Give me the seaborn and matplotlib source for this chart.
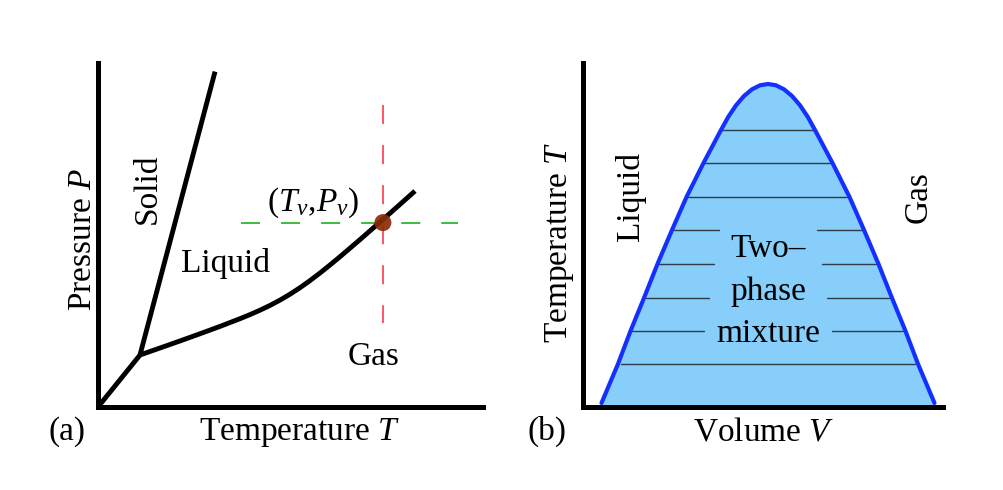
import numpy as np
import pandas as pd
import matplotlib
matplotlib.use("Agg")
import matplotlib.pyplot as plt
import seaborn as sns

# ---------------- data (arbitrary units 0..10) ----------------
# (a) P-T phase diagram
sub_T = [0.00, 1.09]
sub_P = [0.00, 1.51]
melt_T = [1.09, 3.04]
melt_P = [1.51, 9.75]
vap_T = [1.091, 1.610, 2.130, 2.649, 3.169, 3.688, 3.948, 4.208, 4.468, 4.727,
         4.987, 5.247, 5.506, 5.766, 6.026, 6.286, 6.805, 7.325, 7.844, 8.234]
vap_P = [1.512, 1.715, 1.920, 2.129, 2.343, 2.567, 2.686, 2.814, 2.953, 3.107,
         3.279, 3.468, 3.674, 3.895, 4.128, 4.369, 4.866, 5.375, 5.890, 6.279]
Tv, Pv = 7.40, 5.36
red_P = [8.78, 2.44]          # vertical guide (top -> bottom)
green_T = [3.71, 9.35]        # horizontal guide

# (b) T-V coexistence dome
dome_V = [0.514, 0.972, 1.319, 1.694, 2.069, 2.472, 2.875, 3.347, 3.833, 4.028, 4.250,
          4.472, 4.694, 4.917, 5.139, 5.361, 5.583, 5.806, 6.028, 6.250, 6.444, 6.931,
          7.403, 7.806, 8.208, 8.583, 8.958, 9.306, 9.764]
dome_T = [0.116, 1.250, 2.209, 3.169, 4.157, 5.145, 6.105, 7.093, 8.052, 8.422, 8.770,
          9.041, 9.235, 9.352, 9.390, 9.352, 9.235, 9.041, 8.770, 8.422, 8.052, 7.093,
          6.105, 5.145, 4.157, 3.169, 2.209, 1.250, 0.116]
tie_T = [8.05, 7.08, 6.11, 5.15, 4.15, 3.18, 2.21, 1.24]
tie_left = [(3.85, 6.40), (3.39, 6.88), (2.93, 7.34), (2.53, 3.79), (2.09, 3.64),
            (1.75, 3.51), (1.35, 3.36), (1.05, 9.22)]
tie_right = [None, None, None, (6.49, 7.74), (6.63, 8.14), (6.77, 8.51), (6.91, 8.90), None]

# ---------------- style ----------------
sns.set_style("white")
plt.rcParams["font.family"] = ["Liberation Serif", "DejaVu Serif"]
plt.rcParams["mathtext.fontset"] = "custom"
plt.rcParams["mathtext.rm"] = "Liberation Serif"
plt.rcParams["mathtext.it"] = "Liberation Serif:italic"
plt.rcParams["text.color"] = "black"
plt.rcParams["axes.labelcolor"] = "black"
FS = 24

W, H = 1004, 490
fig = plt.figure(figsize=(W / 100, H / 100), dpi=100)
fig.patch.set_facecolor("white")


def px_axes(x0, x1, ytop, ybot):
    return fig.add_axes([x0 / W, 1 - ybot / H, (x1 - x0) / W, (ybot - ytop) / H])


axa = px_axes(98, 483, 63, 407)
axb = px_axes(583, 943, 63, 407)

for ax in (axa, axb):
    ax.set_xlim(0, 10)
    ax.set_ylim(0, 10)
    ax.set_xticks([])
    ax.set_yticks([])
    ax.set_facecolor("white")
    sns.despine(ax=ax)
    for s in ("left", "bottom"):
        ax.spines[s].set_linewidth(3.6)
        ax.spines[s].set_color("black")
        ax.spines[s].set_capstyle("projecting")
        ax.spines[s].set_zorder(5)

# ---------------- (a) ----------------
blk = dict(color="black", linewidth=3.5, sort=False, estimator=None, ax=axa, legend=False)
sns.lineplot(x=sub_T, y=sub_P, **blk)
sns.lineplot(x=melt_T, y=melt_P, **blk)
sns.lineplot(x=vap_T, y=vap_P, **blk)
for ln in axa.lines:
    ln.set_solid_joinstyle("round")
    ln.set_solid_capstyle("butt")

axa.plot([Tv, Tv], red_P, color="#ff5468", linewidth=1.4, linestyle=(0, (9.8, 10.8)), zorder=1)
axa.plot(green_T, [Pv, Pv], color="#3fbb3f", linewidth=1.4, linestyle=(0, (9.8, 10.8)), zorder=1)
sns.scatterplot(x=[Tv], y=[Pv], s=150, color="#8a2c08", alpha=0.92, edgecolor="none",
                ax=axa, zorder=4, legend=False)

axa.text(1.29, 6.34, "Solid", rotation=90, ha="center", va="center", fontsize=FS)
axa.text(3.32, 3.93, "Liquid", ha="center", va="baseline", fontsize=FS)
axa.text(7.17, 1.22, "Gas", ha="center", va="baseline", fontsize=FS)
axa.text(5.58, 5.71, "($T_v$,$P_v$)", ha="center", va="baseline", fontsize=FS)

axa.set_xlabel("")
axa.set_ylabel("")
axa.text(0.525, -0.096, "Temperature $T$", transform=axa.transAxes, ha="center",
         va="baseline", fontsize=FS, clip_on=False)
axa.text(-0.040, 0.488, "Pressure $P$", transform=axa.transAxes, ha="center",
         va="center", rotation=90, fontsize=FS, clip_on=False)

# ---------------- (b) ----------------
axb.fill_between(dome_V, dome_T, 0, color="#87cefa", zorder=1, linewidth=0)
for t, l, r in zip(tie_T, tie_left, tie_right):
    axb.plot(list(l), [t, t], color="#2e3d48", linewidth=1.0, zorder=2)
    if r is not None:
        axb.plot(list(r), [t, t], color="#2e3d48", linewidth=1.0, zorder=2)
sns.lineplot(x=dome_V, y=dome_T, color="#1430ff", linewidth=3.0, sort=False,
             estimator=None, ax=axb, legend=False, zorder=3)
axb.lines[-1].set_solid_joinstyle("round")

axb.text(5.14, 3.36, "Two\u2013\nphase\nmixture", ha="center", va="center",
         fontsize=FS, linespacing=1.5, zorder=4)
axb.text(1.33, 6.13, "Liquid", rotation=90, ha="center", va="center", fontsize=FS)
axb.text(9.32, 6.10, "Gas", rotation=90, ha="center", va="center", fontsize=FS)

axb.set_xlabel("")
axb.set_ylabel("")
axb.text(0.501, -0.096, "Volume $V$", transform=axb.transAxes, ha="center",
         va="baseline", fontsize=FS, clip_on=False)
axb.text(-0.065, 0.48, "Temperature $T$", transform=axb.transAxes, ha="center",
         va="center", rotation=90, fontsize=FS, clip_on=False)

# panel tags
fig.text(67 / W, 1 - 440 / H, "(a)", ha="center", va="baseline", fontsize=FS)
fig.text(547 / W, 1 - 440 / H, "(b)", ha="center", va="baseline", fontsize=FS)

fig.savefig("out.png", dpi=100, facecolor="white")
